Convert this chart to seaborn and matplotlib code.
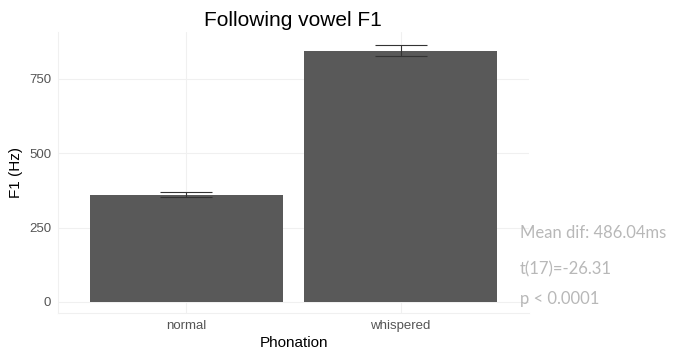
import matplotlib
matplotlib.use("Agg")
import matplotlib.pyplot as plt
import seaborn as sns
import pandas as pd

categories = ["normal", "whispered"]
means = [360, 844]
err_low = [352, 827]
err_high = [369, 863]
yticks = [0, 250, 500, 750]
stats_lines = ["Mean dif: 486.04ms", "t(17)=-26.31", "p < 0.0001"]

sns.set_theme(style="whitegrid")
plt.rcParams['font.family'] = ['Liberation Sans', 'DejaVu Sans']

df = pd.DataFrame({"Phonation": categories, "F1": means})

fig = plt.figure(figsize=(6.75, 3.54), dpi=100)
ax = fig.add_axes([58/675, 1-313/354, (529-58)/675, (313-32)/354])
sns.barplot(data=df, x="Phonation", y="F1", color="#595959", width=0.9,
            errorbar=None, ax=ax, saturation=1, edgecolor="none")
lo = [m - l for m, l in zip(means, err_low)]
hi = [h - m for m, h in zip(means, err_high)]
ax.errorbar(range(len(categories)), means, yerr=[lo, hi], fmt="none",
            ecolor="#333333", elinewidth=0.8, capsize=19, capthick=0.8)

ax.set_xlim(-0.6, 1.6)
ax.set_ylim(-37, 908)
ax.set_yticks(yticks)
ax.set_facecolor("white")
ax.grid(True, color="#f0f0f0", linewidth=0.8)
ax.set_axisbelow(True)
for s in ["top", "right"]:
    ax.spines[s].set_visible(False)
for s in ["left", "bottom"]:
    ax.spines[s].set_color("#f0f0f0")
    ax.spines[s].set_linewidth(0.8)
ax.tick_params(axis="both", colors="#b0b0b0", labelcolor="#555555",
               labelsize=9.5, length=3, width=0.6, pad=2)
ax.set_xlabel("Phonation", fontsize=11, color="black", labelpad=3)
ax.set_ylabel("F1 (Hz)", fontsize=11, color="black", labelpad=4)
fig.text(293/675, 1-20/354, "Following vowel F1", fontsize=15, ha="center",
         va="center", color="black")

ys = [233, 269, 299]
for t, y in zip(stats_lines, ys):
    fig.text(520/675, 1-y/354, t, fontsize=12, color="#b8b8b8",
             family=["Lato", "DejaVu Sans"],
             ha="left", va="center")

fig.savefig("out.png", dpi=100)
